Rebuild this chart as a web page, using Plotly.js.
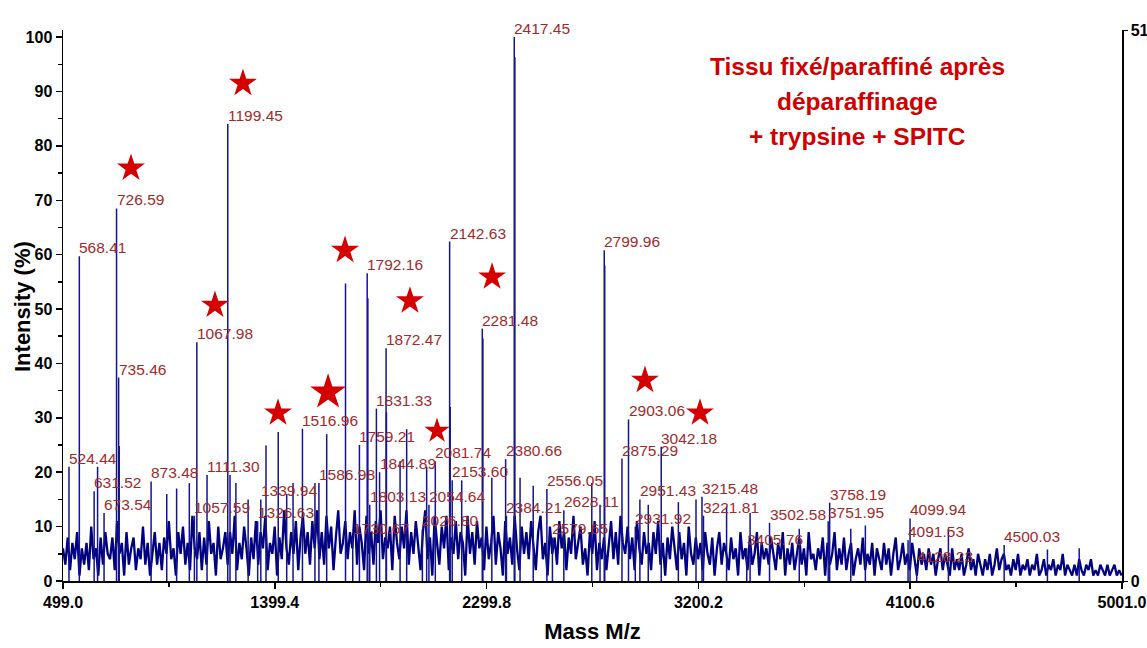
<!DOCTYPE html>
<html><head><meta charset="utf-8">
<script src="https://cdn.plot.ly/plotly-3.0.1.min.js"></script>
<style>html,body{margin:0;padding:0;background:#fff}#chart{width:1147px;height:648px}</style>
</head><body><div id="chart"></div>
<script>
// background spectrum, sampled every 10 m/z starting at 499
const noiseStart = 499;
const noiseStep = 10;
const noiseIntensity = [
6,3,8,2,7,4,9,1,6,3,
7,2,10,4,6,1,8,3,9,5,
4,8,2,11,5,7,1,9,3,6,
8,2,6,4,10,3,7,1,5,9,
3,7,2,8,5,11,4,6,1,9,
5,10,3,7,2,12,6,4,9,2,
8,3,11,5,7,1,10,4,6,9,
3,9,5,12,2,7,4,10,6,1,
8,4,11,3,9,6,12,2,7,5,
10,1,8,4,13,6,3,9,5,11,
2,8,12,5,9,3,11,6,13,4,
9,3,12,6,10,2,8,13,5,7,
11,4,9,6,13,3,10,7,2,12,
5,9,3,11,7,13,4,8,6,10,
2,12,7,4,10,6,13,3,9,5,
11,6,2,9,13,4,8,1,12,7,
3,10,6,12,2,8,5,11,4,9,
7,1,12,5,9,3,11,6,8,2,
10,4,7,12,3,9,6,1,11,5,
8,3,12,6,2,10,5,9,4,11,
6,2,9,12,4,7,1,10,5,8,
3,11,6,9,2,8,5,12,4,7,
10,3,6,1,9,5,11,2,7,4,
8,2,6,11,4,9,3,12,7,5,
10,4,8,2,11,6,3,9,5,7,
2,9,5,11,3,7,1,8,4,10,
6,2,9,4,7,1,10,5,3,8,
4,7,2,9,5,3,8,1,6,9,
3,7,5,2,8,4,6,1,9,4,
6,2,8,3,5,9,1,7,4,6,
3,8,5,2,7,4,9,1,6,3,
7,2,5,8,3,6,1,9,4,5,
2,6,4,8,1,7,3,5,9,2,
6,3,8,2,5,7,1,4,6,3,
8,2,5,3,7,1,6,4,2,7,
3,6,1,5,8,2,4,7,3,5,
2,7,4,1,6,3,5,2,6,3,
5,1,4,6,2,5,3,1,6,2,
4,2,5,1,3,6,2,4,1,5,
3,1,4,2,5,1,3,6,2,4,
5,2,3,1,4,2,5,1,3,2,
4,1,3,2,5,1,2,4,1,3,
2,4,1,3,2,5,1,3,2,1,
3,1,4,2,1,3,2,4,1,2,
1,3,2,1,3,1,2,3,1,2,
1
];

// labelled peaks
const peakLabels = ["524.44","568.41","631.52","673.54","726.59","735.46","873.48","1057.59","1067.98","1111.30",
"1199.45","1326.63","1339.94","1516.96","1586.98","1730.67","1759.21","1792.16","1803.13","1831.33",
"1844.89","1872.47","2026.80","2054.64","2081.74","2142.63","2153.60","2281.48","2380.66","2384.21",
"2417.45","2556.05","2579.65","2628.11","2799.96","2875.29","2903.06","2931.92","2951.43","3042.18",
"3215.48","3221.81","3405.76","3502.58","3751.95","3758.19","4091.53","4099.94","4128.23","4500.03"];
const peakIntensity = [21,59.7,16.5,12.5,68.5,37.4,18.3,12,43.9,19.5,
84,11,15,28,18,8,25,56.6,14,31.7,
20,42.8,9.5,14,22,62.4,18.5,46.4,22.4,12,
100,16.9,8,13,60.8,22.5,29.7,10,15,24.7,
15.5,12,6,10.7,11,14.4,7.5,11.5,3,6.6];

// unlabelled peaks
const otherPeakMz = [646,738,940,982,1036,1209,1234,1286,1362,1414,1450,1477,1570,1620,1700,1795,1874,1932,1960,2045,
2145,2194,2284,2322,2420,2442,2498,2747,2782,2802,2987,3115,3190,3320,3420,3629,3848,3910,4263,4684,4819];
const otherPeakIntensity = [21,24.8,16,17,18,19.5,18,15,24.9,27.4,16,18,18,27,54.7,52,31,22,27.9,21,
32,18.5,44.6,19,96.3,19,17.5,18,14,58,14,14.5,15,13.7,12.5,9.6,9.6,10.2,9.6,5.8,6];

// stars
const starMz = [788,1264,1145,1698,1413,1626,1974,2089,2323,2973,3207];
const starIntensity = [75.9,91.5,50.7,60.8,30.9,34.7,51.5,27.6,55.9,36.9,30.9];
const starSize = [21,21,21,21,21,27,21,19,21,21,21];

const xTickVals = [499.0,1399.4,2299.8,3200.2,4100.6,5001.0];
const xTickText = ["499.0","1399.4","2299.8","3200.2","4100.6","5001.0"];
const xMinorVals = [949.2,1849.6,2750.0,3650.4,4550.8];
const yTickVals = [0,10,20,30,40,50,60,70,80,90,100];
const y2TickVals = [0,51];
const titleLines = ["Tissu fixé/paraffiné après","déparaffinage","+ trypsine + SPITC"];

// build traces
const noiseX = noiseIntensity.map((v,i)=>noiseStart + i*noiseStep);
const peakMz = peakLabels.map(Number);
const stickX = [], stickY = [];
function addSticks(xs, ys){ xs.forEach((m,i)=>{ stickX.push(m,m,null); stickY.push(0,ys[i],null); }); }
addSticks(peakMz, peakIntensity);
addSticks(otherPeakMz, otherPeakIntensity);

const navy = '#000080';
const traces = [
  {x: noiseX, y: noiseIntensity, type:'scatter', mode:'lines', line:{color:navy, width:2.3}, hoverinfo:'skip', showlegend:false},
  {x: stickX, y: stickY, type:'scatter', mode:'lines', line:{color:'#14148c', width:1.5}, hoverinfo:'skip', showlegend:false},
  {x: starMz, y: starIntensity, type:'scatter', mode:'markers', marker:{symbol:'star', size:starSize, color:'#d40000', opacity:1, line:{width:0}}, hoverinfo:'skip', showlegend:false},
  {x:[null], y:[null], yaxis:'y2', type:'scatter', mode:'markers', showlegend:false, hoverinfo:'skip'}
];

const sans = '"Liberation Sans", Arial, sans-serif';
const labelFont = {family:sans, size:15.5, color:'#9e2b2b'};
const annotations = peakLabels.map((t,i)=>({
  x: peakMz[i], y: peakIntensity[i], xref:'x', yref:'y', text:t, showarrow:false,
  xanchor:'left', yanchor:'bottom', yshift:-1, xshift:-1, font:labelFont, borderpad:0
}));
const titleY = [66,101,136];
titleLines.forEach((t,i)=>{
  annotations.push({xref:'paper', yref:'paper', x:(857-63)/1059, y:(581-titleY[i])/551, text:'<b>'+t+'</b>',
    showarrow:false, xanchor:'center', yanchor:'middle',
    font:{family:sans, size:24.5, color:'#d00000'}});
});
// y axis title
annotations.push({xref:'paper', yref:'paper', x:(22-63)/1059, y:(581-307)/551, text:'<b>Intensity (%)</b>',
  textangle:-90, showarrow:false, xanchor:'center', yanchor:'middle', font:{family:sans, size:22, color:'#000'}});

const tickFont = {family:sans, size:16, color:'#000', weight:'bold'};

const layout = {
  width:1147, height:648,
  margin:{l:63, r:25, t:30, b:67},
  paper_bgcolor:'#ffffff', plot_bgcolor:'#ffffff',
  showlegend:false,
  xaxis:{range:[499,5001], tickmode:'array', tickvals:xTickVals, ticktext:xTickText,
    ticks:'outside', ticklen:6, tickwidth:1.5, tickcolor:'#000', showline:true, linecolor:'#000', linewidth:1.5,
    showgrid:false, zeroline:false, tickfont:tickFont,
    minor:{tickmode:'array', tickvals:xMinorVals, ticks:'outside', ticklen:4, tickcolor:'#000', showgrid:false},
    title:{text:'<b>Mass M/z</b>', standoff:14, font:{family:sans, size:22, color:'#000'}}},
  yaxis:{range:[0,101.3], tickmode:'array', tickvals:yTickVals,
    ticks:'outside', ticklen:6, tickwidth:1.5, tickcolor:'#000', showline:true, linecolor:'#000', linewidth:1.5,
    showgrid:false, zeroline:false, tickfont:tickFont,
    minor:{dtick:5, tick0:0, ticks:'outside', ticklen:4, tickcolor:'#000', showgrid:false}},
  yaxis2:{overlaying:'y', side:'right', anchor:'x', range:[0,51], tickmode:'array', tickvals:y2TickVals,
    ticks:'outside', ticklen:4, tickcolor:'#000', showline:true, linecolor:'#000', linewidth:1.5,
    showgrid:false, zeroline:false, tickfont:tickFont},
  annotations: annotations
};

Plotly.newPlot('chart', traces, layout, {staticPlot:true, displayModeBar:false});
</script>
</body></html>
